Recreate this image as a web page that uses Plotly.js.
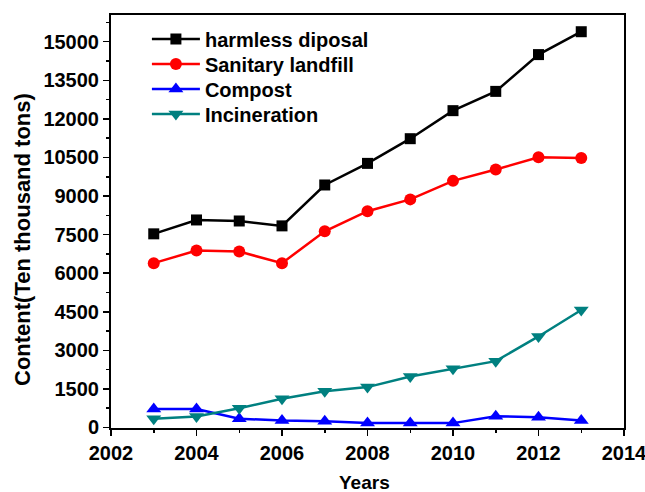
<!DOCTYPE html>
<html><head><meta charset="utf-8">
<script src="https://cdn.plot.ly/plotly-3.0.1.min.js"></script>
<style>body{margin:0;background:#fff}#c{width:645px;height:492px}</style>
</head><body><div id="c"></div>
<script>
const years = [2003,2004,2005,2006,2007,2008,2009,2010,2011,2012,2013];
const harmless = [7530,8070,8030,7840,9430,10270,11230,12320,13070,14500,15390];
const landfill = [6390,6880,6840,6390,7630,8410,8870,9590,10030,10510,10480];
const compost = [720,720,340,270,240,170,170,170,440,400,270];
const incineration = [340,430,750,1115,1410,1570,1980,2280,2580,3540,4570];
const names = ['harmless diposal','Sanitary landfill','Compost','Incineration'];
const yTicks = [0,1500,3000,4500,6000,7500,9000,10500,12000,13500,15000];
const xTicks = [2002,2004,2006,2008,2010,2012,2014];
const yTitle = 'Content(Ten thousand tons)';
const xTitle = 'Years';

const mk = (y, name, color, symbol, size, lg) => ({
  x: years, y: y, name: name, type: 'scatter', mode: 'lines+markers', legend: lg,
  line: {color: color, width: 2.5},
  marker: {color: color, symbol: symbol, size: size}
});
const data = [
  mk(harmless, names[0], '#000000', 'square', 11, 'legend'),
  mk(landfill, names[1], '#ff0000', 'circle', 12, 'legend2'),
  mk(compost, names[2], '#0000ff', 'triangle-up', 13, 'legend3'),
  mk(incineration, names[3], '#008080', 'triangle-down', 13, 'legend4')
];
const FAM = 'Liberation Sans, Arial, sans-serif';
const f = (s) => ({family: FAM, size: s, color: '#000', weight: 'bold'});
const lg = (y) => ({x: 0.07, y: y, xanchor: 'left', yanchor: 'middle', bgcolor: 'rgba(0,0,0,0)',
  font: f(20), itemwidth: 48});
const layout = {
  width: 645, height: 492,
  margin: {l: 111, r: 21, t: 15, b: 64},
  paper_bgcolor: '#fff', plot_bgcolor: '#fff',
  font: f(20),
  showlegend: true,
  legend: lg(0.9419), legend2: lg(0.8814), legend3: lg(0.8208), legend4: lg(0.7603),
  xaxis: {
    range: [2002, 2014], tickvals: xTicks, ticktext: xTicks.map(String),
    ticklabeloverflow: 'allow',
    showgrid: false, zeroline: false, showline: true, linecolor: '#000', linewidth: 2, mirror: true,
    ticks: 'outside', ticklen: 6, tickwidth: 1.5, tickcolor: '#000',
    minor: {dtick: 1, tick0: 2002, ticks: 'outside', ticklen: 3, tickcolor: '#000', tickwidth: 1.5},
    tickfont: f(20)
  },
  yaxis: {
    range: [-20, 16040], tickvals: yTicks, ticktext: yTicks.map(String),
    showgrid: false, zeroline: false, showline: true, linecolor: '#000', linewidth: 2, mirror: true,
    ticks: 'outside', ticklen: 6, tickwidth: 1.5, tickcolor: '#000',
    minor: {dtick: 750, tick0: 0, ticks: 'outside', ticklen: 3, tickcolor: '#000', tickwidth: 1.5},
    tickfont: f(20)
  },
  annotations: [{
    text: yTitle, xref: 'paper', yref: 'paper', x: -0.1735, y: 0.4576,
    xanchor: 'center', yanchor: 'middle', textangle: -90, showarrow: false, font: f(22)
  }, {
    text: xTitle, xref: 'paper', yref: 'paper', x: 0.495, y: -0.1308,
    xanchor: 'center', yanchor: 'middle', showarrow: false, font: f(19)
  }]
};
Plotly.newPlot('c', data, layout, {displayModeBar: false, staticPlot: true});
</script></body></html>
